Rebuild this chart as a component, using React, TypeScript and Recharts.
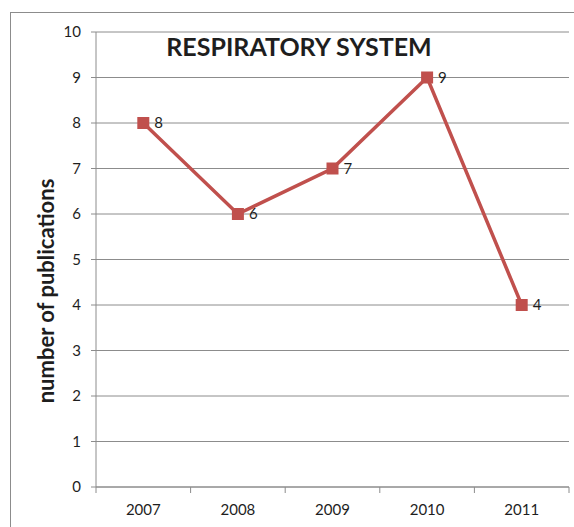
import React from 'react';
import {
  LineChart,
  Line,
  XAxis,
  YAxis,
  CartesianGrid,
  LabelList,
  Customized,
} from 'recharts';

const years = ['2007', '2008', '2009', '2010', '2011'];
const publications = [8, 6, 7, 9, 4];
const yTicks = [0, 1, 2, 3, 4, 5, 6, 7, 8, 9, 10];

const data = years.map((year, i) => ({ year, pubs: publications[i] }));

const FONT = 'Lato, "Open Sans", sans-serif';
const GRID = '#8c8c8c';
const RED = '#c0504d';
const INK = '#1e1e1e';

function SquareDot(props: any) {
  const { cx, cy } = props;
  if (cx == null || cy == null) return null;
  return <rect x={cx - 6} y={cy - 6} width={12} height={12} fill={RED} />;
}

// year label at the band centre, tick marks on the band edges
function YearTick(props: any) {
  const { x, y, payload, index, visibleTicksCount } = props;
  const half = payload.offset ?? 0;
  const last = index === (visibleTicksCount ?? years.length) - 1;
  return (
    <g>
      <line x1={x - half} x2={x - half} y1={y} y2={y + 6} stroke={GRID} />
      {last && <line x1={x + half} x2={x + half} y1={y} y2={y + 6} stroke={GRID} />}
      <text x={x} y={y + 28} textAnchor="middle" fill={INK} fontSize={15} fontFamily={FONT}>
        {payload.value}
      </text>
    </g>
  );
}

function Titles() {
  return (
    <g fontFamily={FONT} fontWeight="bold" fill={INK}>
      <text x={299} y={56} textAnchor="middle" fontSize={25}>
        RESPIRATORY SYSTEM
      </text>
      <text
        x={45}
        y={291}
        textAnchor="middle"
        dominantBaseline="central"
        fontSize={22}
        transform="rotate(-90 45 291)"
      >
        number of publications
      </text>
    </g>
  );
}

export default function App() {
  return (
    <div
      style={{
        position: 'absolute',
        left: 0,
        top: 0,
        width: 574,
        height: 527,
        overflow: 'hidden',
        background: '#fff',
      }}
    >
      <div
        style={{
          position: 'absolute',
          left: 10,
          top: 12,
          width: 640,
          height: 600,
          border: `1px solid ${GRID}`,
        }}
      />
      <div style={{ position: 'absolute', left: 0, top: 0 }}>
        <LineChart
          width={574}
          height={527}
          data={data}
          margin={{ top: 32, right: 5, bottom: 0, left: 16 }}
        >
          <CartesianGrid vertical={false} stroke={GRID} />
          <XAxis
            dataKey="year"
            scale="band"
            height={40}
            axisLine={{ stroke: GRID }}
            tickLine={false}
            tickSize={0}
            tickMargin={0}
            tick={<YearTick />}
          />
          <YAxis
            width={80}
            domain={[0, 10]}
            ticks={yTicks}
            axisLine={{ stroke: GRID }}
            tickLine={{ stroke: GRID }}
            tickSize={5}
            tickMargin={10}
            tick={{ fill: INK, fontSize: 15, fontFamily: FONT }}
          />
          <Line
            dataKey="pubs"
            stroke={RED}
            strokeWidth={3.5}
            dot={<SquareDot />}
            activeDot={false}
            isAnimationActive={false}
          >
            <LabelList
              dataKey="pubs"
              position="right"
              offset={11}
              fill={INK}
              fontSize={15}
              fontFamily={FONT}
            />
          </Line>
          <Customized component={Titles} />
        </LineChart>
      </div>
    </div>
  );
}
